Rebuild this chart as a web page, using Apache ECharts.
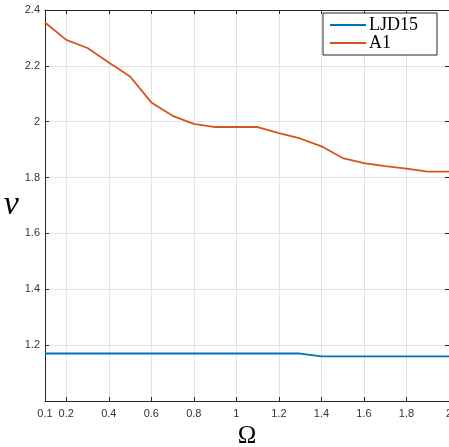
<!DOCTYPE html>
<html>
<head>
<meta charset="utf-8">
<script src="https://cdn.jsdelivr.net/npm/echarts@6/dist/echarts.min.js"></script>
<style>
html,body{margin:0;padding:0;background:#fff;}
#c{width:449px;height:447px;}
</style>
</head>
<body>
<div id="c"></div>
<script>
var omega = [0.1,0.2,0.3,0.4,0.5,0.6,0.7,0.8,0.9,1.0,1.1,1.2,1.3,1.4,1.5,1.6,1.7,1.8,1.9,2.0];
var ljd15 = [1.17,1.17,1.17,1.17,1.17,1.17,1.17,1.17,1.17,1.17,1.17,1.17,1.17,1.16,1.16,1.16,1.16,1.16,1.16,1.16];
var a1 = [2.355,2.293,2.264,2.212,2.162,2.069,2.021,1.992,1.981,1.981,1.981,1.959,1.94,1.912,1.87,1.852,1.841,1.832,1.821,1.821];
var xTicks = [0.1,0.2,0.4,0.6,0.8,1,1.2,1.4,1.6,1.8,2];
var yTicks = [1.2,1.4,1.6,1.8,2,2.2,2.4];
var seriesNames = ['LJD15','A1'];
var colors = ['#0072BD','#D95319'];

function pairs(xs, ys){ return xs.map(function(x,i){ return [x, ys[i]]; }); }

var axisColor = '#262626';
var gridColor = '#e3e3e3';
var labelFont = {fontFamily:'Liberation Sans, Arial, sans-serif', fontSize:11, color:'#333'};

var chart = echarts.init(document.getElementById('c'), null, {renderer:'canvas'});
chart.setOption({
  animation:false,
  backgroundColor:'#fff',
  color: colors,
  grid:{left:45, right:0, top:10, bottom:46, containLabel:false, outerBoundsMode:'none'},
  legend:{
    orient:'vertical', right:12, top:13,
    data: seriesNames,
    icon:'rect', itemWidth:36, itemHeight:2, itemGap:0,
    padding:[3,6,3,7],
    borderColor:axisColor, borderWidth:1, backgroundColor:'#fff',
    textStyle:{fontFamily:'Liberation Serif, Times New Roman, serif', fontSize:18, color:'#000', lineHeight:18, width:62, padding:[0,0,0,-2]}
  },
  xAxis:[{
    type:'value', min:0.1, max:2, position:'bottom',
    name:'Ω', nameLocation:'middle', nameGap:19,
    nameTextStyle:{fontFamily:'Liberation Serif, Times New Roman, serif', fontSize:25, color:'#000'},
    axisLine:{show:true, onZero:false, lineStyle:{color:axisColor, width:1}},
    axisTick:{show:true, inside:true, length:4, customValues:xTicks, lineStyle:{color:axisColor}},
    axisLabel:Object.assign({margin:7, customValues:xTicks, formatter:function(v){return String(v);}}, labelFont),
    splitLine:{show:true, lineStyle:{color:gridColor, width:1}}
  },{
    type:'value', min:0.1, max:2, position:'top',
    axisLine:{show:true, onZero:false, lineStyle:{color:axisColor, width:1}},
    axisTick:{show:true, inside:true, length:4, customValues:xTicks, lineStyle:{color:axisColor}},
    axisLabel:{show:false},
    splitLine:{show:false}
  }],
  yAxis:[{
    type:'value', min:1, max:2.4, position:'left',
    name:'ν', nameLocation:'middle', nameGap:19, nameRotate:0,
    nameTextStyle:{fontFamily:'Liberation Serif, Times New Roman, serif', fontStyle:'italic', fontSize:34, color:'#000'},
    axisLine:{show:true, onZero:false, lineStyle:{color:axisColor, width:1}},
    axisTick:{show:true, inside:true, length:4, customValues:yTicks, lineStyle:{color:axisColor}},
    axisLabel:Object.assign({margin:5, customValues:yTicks, formatter:function(v){return String(v);}}, labelFont),
    splitLine:{show:true, lineStyle:{color:gridColor, width:1}}
  },{
    type:'value', min:1, max:2.4, position:'right',
    axisLine:{show:true, onZero:false, lineStyle:{color:axisColor, width:1}},
    axisTick:{show:true, inside:true, length:4, customValues:yTicks, lineStyle:{color:axisColor}},
    axisLabel:{show:false},
    splitLine:{show:false}
  }],
  series:[{
    name:seriesNames[0], type:'line', data:pairs(omega, ljd15),
    showSymbol:false, symbol:'none', lineStyle:{width:1.8, color:colors[0]}, itemStyle:{color:colors[0]}
  },{
    name:seriesNames[1], type:'line', data:pairs(omega, a1),
    showSymbol:false, symbol:'none', lineStyle:{width:1.8, color:colors[1]}, itemStyle:{color:colors[1]}
  }]
});
</script>
</body>
</html>
